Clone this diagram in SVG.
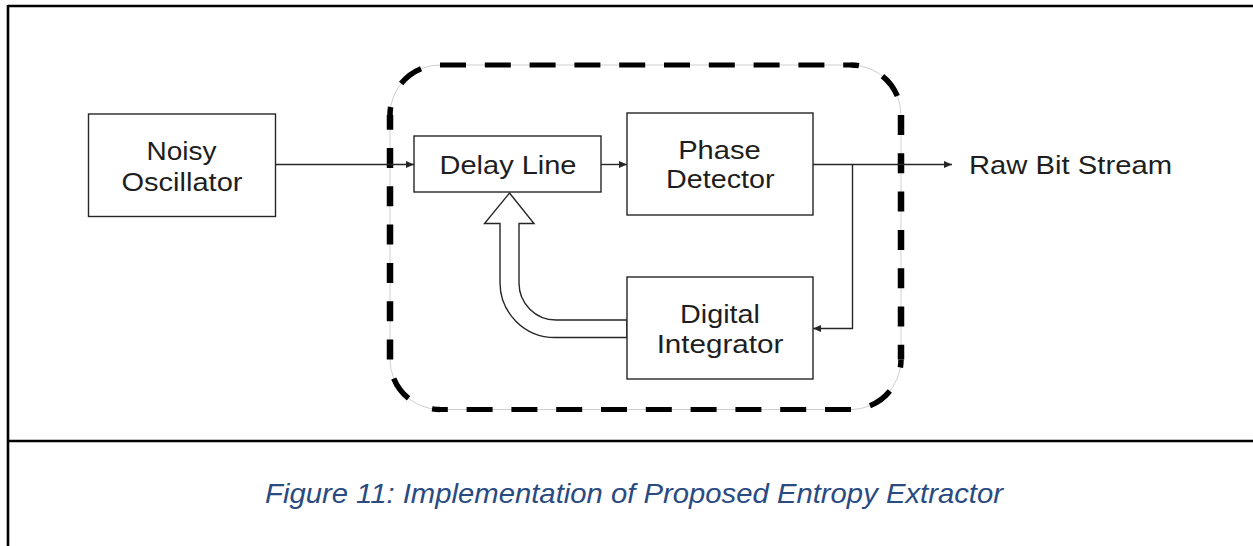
<svg xmlns="http://www.w3.org/2000/svg" width="1253" height="546" viewBox="0 0 1253 546">
  <style>
    .frame { stroke: #000; stroke-width: 2.6; fill: none; }
    .box { fill: #fff; stroke: #262626; stroke-width: 1.4; }
    .lbl { font-family: "Liberation Sans", Arial, sans-serif; font-size: 26px; fill: #1e1e1e; text-anchor: middle; }
    .wire { fill: none; stroke: #262626; stroke-width: 1.4; }
    .guide { fill: none; stroke: #cfcfcf; stroke-width: 1; }
    .dh { fill: none; stroke: #000; stroke-width: 5; stroke-dasharray: 26 18.8; }
    .dv { fill: none; stroke: #000; stroke-width: 6.5; stroke-dasharray: 20 18.3; }
    .dc { fill: none; stroke: #000; stroke-width: 5.5; stroke-dasharray: 8 26 25 19.5; }
    .caption { font-family: "Liberation Sans", Arial, sans-serif; font-size: 28px; font-style: italic; fill: #2a4b82; text-anchor: middle; }
  </style>
  <defs>
    <marker id="tip" markerUnits="userSpaceOnUse" markerWidth="9" markerHeight="8" refX="8" refY="3.5" orient="auto">
      <path d="M0,0 L8,3.5 L0,7 Z" fill="#262626"/>
    </marker>
  </defs>

  <rect width="1253" height="546" fill="#fff"/>

  <!-- table frame around the figure and its caption -->
  <g id="frame">
    <line class="frame" x1="8" y1="6" x2="1253" y2="6"/>
    <line class="frame" x1="8" y1="5" x2="8" y2="546"/>
    <line class="frame" x1="8" y1="441" x2="1253" y2="441"/>
  </g>

  <!-- dashed boundary of the extractor block -->
  <g id="extractor-boundary">
    <rect class="guide" x="390" y="65" width="511" height="344.5" rx="50" ry="50"/>
    <path class="dh" d="M440,65 H851"/>
    <path class="dc" d="M851,65 A50,50 0 0 1 901,115"/>
    <path class="dv" d="M901,115 V359.5"/>
    <path class="dc" d="M901,359.5 A50,50 0 0 1 851,409.5"/>
    <path class="dh" d="M851,409.5 H440"/>
    <path class="dc" d="M440,409.5 A50,50 0 0 1 390,359.5"/>
    <path class="dv" d="M390,359.5 V115"/>
    <path class="dc" d="M390,115 A50,50 0 0 1 440,65"/>
  </g>

  <!-- connectors -->
  <g id="connectors">
    <line class="wire" x1="275" y1="164.5" x2="414" y2="164.5" marker-end="url(#tip)"/>
    <line class="wire" x1="601" y1="164.5" x2="627" y2="164.5" marker-end="url(#tip)"/>
    <line class="wire" x1="813" y1="164.5" x2="952" y2="164.5" marker-end="url(#tip)"/>
    <polyline class="wire" points="852.5,164.5 852.5,328.5 813,328.5" marker-end="url(#tip)"/>
    <!-- hollow feedback arrow from the integrator up into the delay line -->
    <path id="feedback" fill="#fff" stroke="#262626" stroke-width="1.4"
          d="M509.5,193 L534,223.5 L519,223.5 L519,283 A37,37 0 0 0 556,320 L627,320 L627,337.5 L555,337.5 A55,55 0 0 1 500,282.5 L500,223.5 L484.5,223.5 Z"/>
  </g>

  <g id="noisy-oscillator">
    <rect class="box" x="88.5" y="114" width="187" height="102.5"/>
    <text class="lbl" x="181.5" y="159.5" textLength="70" lengthAdjust="spacingAndGlyphs">Noisy</text>
    <text class="lbl" x="182" y="190.5" textLength="121" lengthAdjust="spacingAndGlyphs">Oscillator</text>
  </g>

  <g id="delay-line">
    <rect class="box" x="414" y="136" width="187" height="56"/>
    <text class="lbl" x="508" y="174" textLength="137" lengthAdjust="spacingAndGlyphs">Delay Line</text>
  </g>

  <g id="phase-detector">
    <rect class="box" x="627" y="113" width="186" height="102"/>
    <text class="lbl" x="719.5" y="159.3" textLength="82.6" lengthAdjust="spacingAndGlyphs">Phase</text>
    <text class="lbl" x="720.3" y="188.3" textLength="108.5" lengthAdjust="spacingAndGlyphs">Detector</text>
  </g>

  <g id="digital-integrator">
    <rect class="box" x="627" y="277" width="186" height="102"/>
    <text class="lbl" x="720" y="322.7" textLength="80" lengthAdjust="spacingAndGlyphs">Digital</text>
    <text class="lbl" x="720" y="352.7" textLength="126.7" lengthAdjust="spacingAndGlyphs">Integrator</text>
  </g>

  <g id="raw-bit-stream">
    <text class="lbl" x="1070.5" y="174.3" textLength="203" lengthAdjust="spacingAndGlyphs">Raw Bit Stream</text>
  </g>

  <g id="caption">
    <text class="caption" x="634" y="503" textLength="738" lengthAdjust="spacingAndGlyphs">Figure 11: Implementation of Proposed Entropy Extractor</text>
  </g>
</svg>
